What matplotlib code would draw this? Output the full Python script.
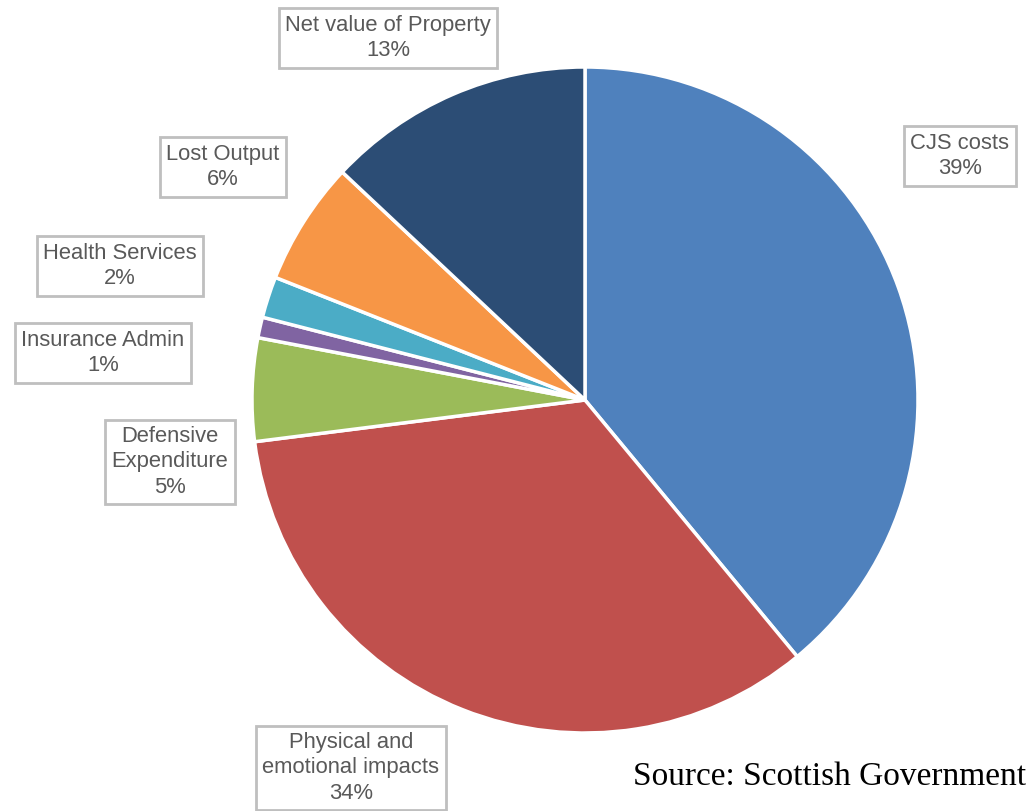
import matplotlib
matplotlib.use("Agg")
import matplotlib.pyplot as plt

categories = ["CJS costs", "Physical and\nemotional impacts", "Defensive\nExpenditure",
              "Insurance Admin", "Health Services", "Lost Output", "Net value of Property"]
values = [39, 34, 5, 1, 2, 6, 13]
colors = ["#4F81BD", "#C0504D", "#9BBB59", "#8064A2", "#4BACC6", "#F79646", "#2C4D75"]
label_pos = [(960, 156), (351, 768), (170, 462), (103, 353), (120, 266), (223, 167), (388, 38)]

fig = plt.figure(figsize=(10.32, 8.11), dpi=100)
ax = fig.add_axes([0, 0, 1, 1])

# y axis inverted -> counterclock=True draws clockwise visually
ax.pie(values, colors=colors, startangle=-90, counterclock=True,
       center=(585, 400), radius=333, frame=True,
       wedgeprops=dict(edgecolor="white", linewidth=2.5))
ax.set_xlim(0, 1032)
ax.set_ylim(811, 0)
ax.set_aspect("equal")
ax.axis("off")

for cat, v, (x, y) in zip(categories, values, label_pos):
    ax.text(x, y, f"{cat}\n{v}%", ha="center", va="center", fontsize=15.8,
            family="Liberation Sans", color="#595959", linespacing=1.27,
            bbox=dict(boxstyle="square,pad=0.3", facecolor="white",
                      edgecolor="#BFBFBF", linewidth=2))

ax.text(1026, 777, "Source: Scottish Government", ha="right", va="center",
        fontsize=24, family="Liberation Serif", color="black")

fig.savefig("out.png", dpi=100)
